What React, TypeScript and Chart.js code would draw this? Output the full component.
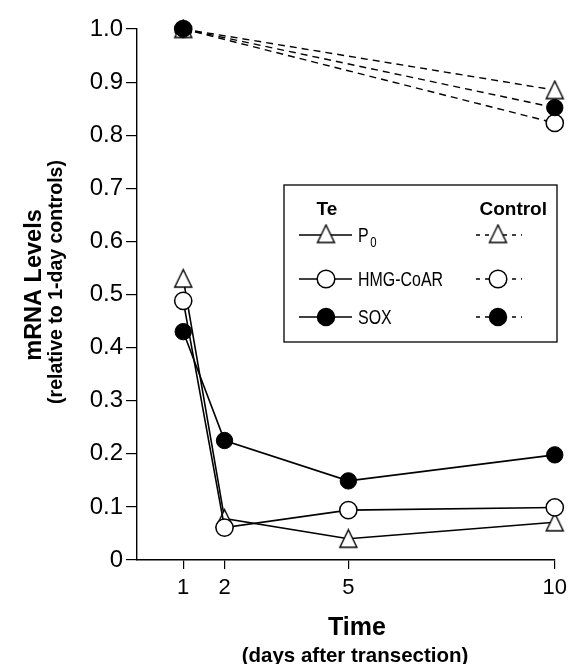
import React, { useEffect, useRef } from 'react';
import { Chart, registerables } from 'chart.js';

Chart.register(...registerables);

const FONT = '"Liberation Sans", Arial, Helvetica, sans-serif';

// ---- data ----
const days = [1, 2, 5, 10];
const teP0 = [0.53, 0.078, 0.04, 0.071];
const teHmg = [0.488, 0.061, 0.094, 0.099];
const teSox = [0.43, 0.225, 0.149, 0.198];

const controlDays = [1, 10];
const ctrlP0 = [1.0, 0.885];
const ctrlHmg = [1.0, 0.823];
const ctrlSox = [1.0, 0.852];

const xTicks = [1, 2, 5, 10];
const xTickLabels = ['1', '2', '5', '10'];
const yTicks = [0, 0.1, 0.2, 0.3, 0.4, 0.5, 0.6, 0.7, 0.8, 0.9, 1.0];
const yTickLabels = ['0', '0.1', '0.2', '0.3', '0.4', '0.5', '0.6', '0.7', '0.8', '0.9', '1.0'];

const legendMain = ['P', 'HMG-CoAR', 'SOX'];
const legendSub = ['0', '', ''];
const legendMarkers = ['triangle', 'open', 'filled'];

const yTitle = 'mRNA Levels';
const ySubTitle = '(relative to 1-day controls)';
const xTitle = 'Time';
const xSubTitle = '(days after transection)';

function makeTriangle(): HTMLCanvasElement {
  const c = document.createElement('canvas');
  c.width = 21;
  c.height = 21;
  const g = c.getContext('2d')!;
  g.beginPath();
  g.moveTo(10.5, 1.5);
  g.lineTo(2, 19);
  g.lineTo(19, 19);
  g.closePath();
  g.fillStyle = '#fff';
  g.fill();
  g.lineWidth = 1.4;
  g.strokeStyle = '#000';
  g.lineJoin = 'miter';
  g.stroke();
  return c;
}

export default function App() {
  const ref = useRef<HTMLCanvasElement>(null);

  useEffect(() => {
    if (!ref.current) return;
    const tri = makeTriangle();
    const pts = (xs: number[], ys: number[]) => xs.map((x, i) => ({ x, y: ys[i] }));

    const markerProps = (kind: string) => {
      if (kind === 'triangle') {
        return { pointStyle: tri as any, pointRadius: 9, pointBackgroundColor: '#fff', pointBorderColor: '#000', pointBorderWidth: 1.4 };
      }
      if (kind === 'open') {
        return { pointStyle: 'circle', pointRadius: 8.6, pointBackgroundColor: '#fff', pointBorderColor: '#000', pointBorderWidth: 1.5 };
      }
      return { pointStyle: 'circle', pointRadius: 8.2, pointBackgroundColor: '#000', pointBorderColor: '#000', pointBorderWidth: 1 };
    };

    const ds = (label: string, data: any[], kind: string, dashed: boolean) => ({
      label,
      data,
      borderColor: '#000',
      borderWidth: dashed ? 1.4 : 1.6,
      borderDash: dashed ? [7, 5] : [],
      fill: false,
      tension: 0,
      clip: false as any,
      ...markerProps(kind),
    });

    // index 0 is drawn on top
    const datasets = [
      ds('Control SOX', pts(controlDays, ctrlSox), 'filled', true),
      ds('Control P0', pts(controlDays, ctrlP0), 'triangle', true),
      ds('Control HMG-CoAR', pts(controlDays, ctrlHmg), 'open', true),
      ds('Te HMG-CoAR', pts(days, teHmg), 'open', false),
      ds('Te P0', pts(days, teP0), 'triangle', false),
      ds('Te SOX', pts(days, teSox), 'filled', false),
    ];

    const drawCircle = (ctx: CanvasRenderingContext2D, x: number, y: number, r: number, filled: boolean) => {
      ctx.beginPath();
      ctx.arc(x, y, r, 0, Math.PI * 2);
      ctx.fillStyle = filled ? '#000' : '#fff';
      ctx.fill();
      ctx.lineWidth = 1.5;
      ctx.strokeStyle = '#000';
      ctx.stroke();
    };

    const drawMarker = (ctx: CanvasRenderingContext2D, kind: string, x: number, y: number) => {
      if (kind === 'triangle') {
        ctx.drawImage(tri, x - tri.width / 2, y - tri.height / 2 - 1);
      } else {
        drawCircle(ctx, x, y, kind === 'open' ? 8.8 : 8.5, kind === 'filled');
      }
    };

    const overlay = {
      id: 'overlay',
      afterDraw(chart: any) {
        const ctx: CanvasRenderingContext2D = chart.ctx;
        ctx.save();
        ctx.fillStyle = '#000';
        ctx.strokeStyle = '#000';

        // y axis titles
        ctx.save();
        ctx.translate(35, 285);
        ctx.rotate(-Math.PI / 2);
        ctx.textAlign = 'center';
        ctx.textBaseline = 'middle';
        ctx.font = `bold 23.5px ${FONT}`;
        ctx.fillText(yTitle, 0, 0);
        ctx.restore();

        ctx.save();
        ctx.translate(57, 282);
        ctx.rotate(-Math.PI / 2);
        ctx.textAlign = 'center';
        ctx.textBaseline = 'middle';
        ctx.font = `bold 19.5px ${FONT}`;
        ctx.fillText(ySubTitle, 0, 0);
        ctx.restore();

        // x axis titles
        ctx.textAlign = 'center';
        ctx.textBaseline = 'middle';
        ctx.font = `bold 25px ${FONT}`;
        ctx.fillText(xTitle, 357, 628);
        ctx.font = `bold 20.5px ${FONT}`;
        ctx.fillText(xSubTitle, 355, 656);

        // legend box
        ctx.lineWidth = 1.3;
        ctx.setLineDash([]);
        ctx.strokeRect(284, 185, 273, 157);

        ctx.font = `bold 19px ${FONT}`;
        ctx.textBaseline = 'middle';
        ctx.textAlign = 'center';
        ctx.fillText('Te', 327, 210);
        ctx.textAlign = 'right';
        ctx.fillText('Control', 547, 210);

        const rowsY = [235, 279, 317];
        rowsY.forEach((ry, i) => {
          // Te solid sample
          ctx.setLineDash([]);
          ctx.lineWidth = 1.6;
          ctx.beginPath();
          ctx.moveTo(299, ry);
          ctx.lineTo(352, ry);
          ctx.stroke();
          drawMarker(ctx, legendMarkers[i], 326, ry);

          // Control dashed sample
          ctx.setLineDash([4, 5]);
          ctx.lineWidth = 1.4;
          ctx.beginPath();
          ctx.moveTo(476, ry);
          ctx.lineTo(522, ry);
          ctx.stroke();
          ctx.setLineDash([]);
          drawMarker(ctx, legendMarkers[i], 498, ry);

          // label text (condensed)
          ctx.save();
          ctx.fillStyle = '#000';
          ctx.translate(358, ry + 1);
          ctx.scale(0.76, 1);
          ctx.textAlign = 'left';
          ctx.textBaseline = 'middle';
          ctx.font = `21px ${FONT}`;
          ctx.fillText(legendMain[i], 0, 0);
          if (legendSub[i]) {
            const w = ctx.measureText(legendMain[i]).width;
            ctx.font = `15px ${FONT}`;
            ctx.fillText(legendSub[i], w + 2, 7);
          }
          ctx.restore();
        });

        ctx.restore();
      },
    };

    const chart = new Chart(ref.current, {
      type: 'line',
      data: { datasets: datasets as any },
      options: {
        responsive: false,
        animation: false,
        devicePixelRatio: 1,
        layout: { padding: { top: 29, right: 16, left: 0, bottom: 0 } },
        plugins: { legend: { display: false }, tooltip: { enabled: false }, title: { display: false } },
        scales: {
          x: {
            type: 'linear',
            min: -0.12,
            max: 10,
            afterBuildTicks: (s: any) => {
              s.ticks = xTicks.map((v) => ({ value: v }));
            },
            afterFit: (s: any) => {
              s.height = 104;
            },
            ticks: {
              color: '#000',
              font: { family: FONT, size: 22 },
              padding: 6,
              maxRotation: 0,
              autoSkip: false,
              callback: (_v: any, i: number) => xTickLabels[i],
            },
            grid: { drawOnChartArea: false, drawTicks: true, tickLength: 9, color: '#000', lineWidth: 1.2 },
            border: { display: true, color: '#000', width: 1.4 },
          },
          y: {
            type: 'linear',
            min: 0,
            max: 1,
            afterBuildTicks: (s: any) => {
              s.ticks = yTicks.map((v) => ({ value: v }));
            },
            afterFit: (s: any) => {
              s.width = 137;
            },
            ticks: {
              color: '#000',
              font: { family: FONT, size: 24 },
              padding: 3,
              autoSkip: false,
              callback: (_v: any, i: number) => yTickLabels[i],
            },
            grid: { drawOnChartArea: false, drawTicks: true, tickLength: 11, color: '#000', lineWidth: 1.2 },
            border: { display: true, color: '#000', width: 1.4 },
          },
        },
      },
      plugins: [overlay],
    });

    return () => chart.destroy();
  }, []);

  return (
    <div style={{ position: 'absolute', left: 0, top: 0, width: 573, height: 664, background: '#fff' }}>
      <canvas ref={ref} width={573} height={664} style={{ display: 'block', width: 573, height: 664 }} />
    </div>
  );
}
